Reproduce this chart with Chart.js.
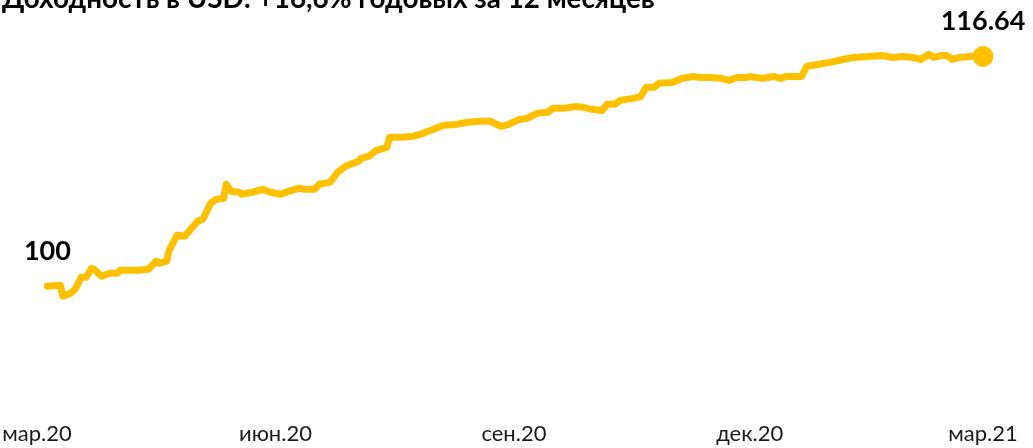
<!DOCTYPE html>
<html>
<head>
<meta charset="utf-8">
<script src="https://cdn.jsdelivr.net/npm/chart.js@4"></script>
<style>
html,body{margin:0;padding:0;background:#fff;}
canvas{display:block;}
</style>
</head>
<body>
<canvas id="c" width="1033" height="448"></canvas>
<script>
const titleText = "Доходность в USD: +16,6% годовых за 12 месяцев";
// days since 1 March 2020
const days = [4,9,10,13,15,17,19,21,22,25,28,31,32,39,43,46,47,50,51,54,57,60,62,64,67,69,72,73,75,78,79,83,87,90,94,97,101,103,107,109,113,116,119,122,124,125,128,131,135,136,141,145,149,152,157,162,166,171,175,179,182,186,189,193,197,199,203,208,211,214,218,220,223,225,230,233,235,238,240,245,249,253,256,260,264,267,270,274,275,280,284,287,289,295,297,301,306,311,315,321,326,330,334,338,341,344,346,349,351,353,356,360,365];
const values = [100.00,100.07,99.28,99.49,99.86,100.65,100.65,101.30,101.23,100.72,100.94,100.94,101.16,101.16,101.23,101.81,101.66,101.81,102.60,103.69,103.62,104.27,104.70,104.85,106.00,106.29,106.37,107.38,106.87,106.80,106.66,106.80,107.02,106.80,106.66,106.87,107.09,107.02,107.02,107.38,107.52,108.25,108.68,108.90,109.04,109.26,109.41,109.84,110.06,110.78,110.78,110.85,111.07,111.29,111.65,111.72,111.87,111.94,111.94,111.58,111.72,112.08,112.15,112.52,112.59,112.88,112.88,113.02,112.95,112.81,112.73,113.17,113.17,113.46,113.60,113.75,114.40,114.40,114.69,114.76,115.05,115.19,115.12,115.12,115.05,114.90,115.12,115.12,115.19,115.05,115.19,115.05,115.19,115.19,115.92,116.06,116.21,116.42,116.57,116.64,116.71,116.57,116.64,116.57,116.42,116.79,116.57,116.71,116.71,116.42,116.57,116.64,116.64];
const tickDays = [0,92,184,275,365];
const tickLabels = ["мар.20","июн.20","сен.20","дек.20","мар.21"];
const startLabel = "100";
const endLabel = "116.64";

const points = days.map((d,i)=>({x:d,y:values[i]}));
const radii = values.map((v,i)=> i===values.length-1 ? 10 : 0);

const annot = {
  id:'annot',
  afterDatasetsDraw(chart){
    const ctx = chart.ctx;
    const xs = chart.scales.x, ys = chart.scales.y;
    ctx.save();
    let fs = 27;
    ctx.font = "bold "+fs+"px Lato";
    const w = ctx.measureText(titleText).width;
    fs = fs*653/w;
    ctx.font = "bold "+fs+"px Lato";
    ctx.fillStyle = "#000";
    ctx.textAlign = "left";
    ctx.textBaseline = "alphabetic";
    ctx.fillText(titleText, 2, 7.5);
    ctx.font = "bold 27px Lato";
    ctx.textAlign = "center";
    ctx.textBaseline = "middle";
    const x0 = xs.getPixelForValue(days[0]), y0 = ys.getPixelForValue(values[0]);
    ctx.fillText(startLabel, x0, y0-35);
    const n = days.length-1;
    const x1 = xs.getPixelForValue(days[n]), y1 = ys.getPixelForValue(values[n]);
    ctx.fillText(endLabel, x1, y1-35);
    ctx.restore();
  }
};

new Chart(document.getElementById('c'), {
  type:'line',
  data:{datasets:[{
    data:points,
    borderColor:'#FFC000',
    backgroundColor:'#FFC000',
    borderWidth:7,
    borderJoinStyle:'round',
    borderCapStyle:'round',
    pointRadius:radii,
    pointHoverRadius:radii,
    pointBorderWidth:1,
    pointBorderColor:'#FFC000',
    tension:0,
    fill:false
  }]},
  options:{
    responsive:false,
    animation:false,
    devicePixelRatio:1,
    layout:{padding:{left:37,right:37,top:0,bottom:0}},
    plugins:{legend:{display:false},tooltip:{enabled:false},title:{display:false}},
    scales:{
      x:{
        type:'linear',
        min:0,max:370,
        grid:{display:false,drawTicks:false},
        border:{display:false},
        afterBuildTicks(scale){ scale.ticks = tickDays.map(v=>({value:v})); },
        ticks:{
          autoSkip:false,maxRotation:0,padding:1,
          color:'#1a1a1a',
          font:{family:'Lato',size:22},
          callback(value,index){ return tickLabels[index]; }
        }
      },
      y:{
        display:false,
        min:90.341,max:119.93
      }
    }
  },
  plugins:[annot]
});
</script>
</body>
</html>
